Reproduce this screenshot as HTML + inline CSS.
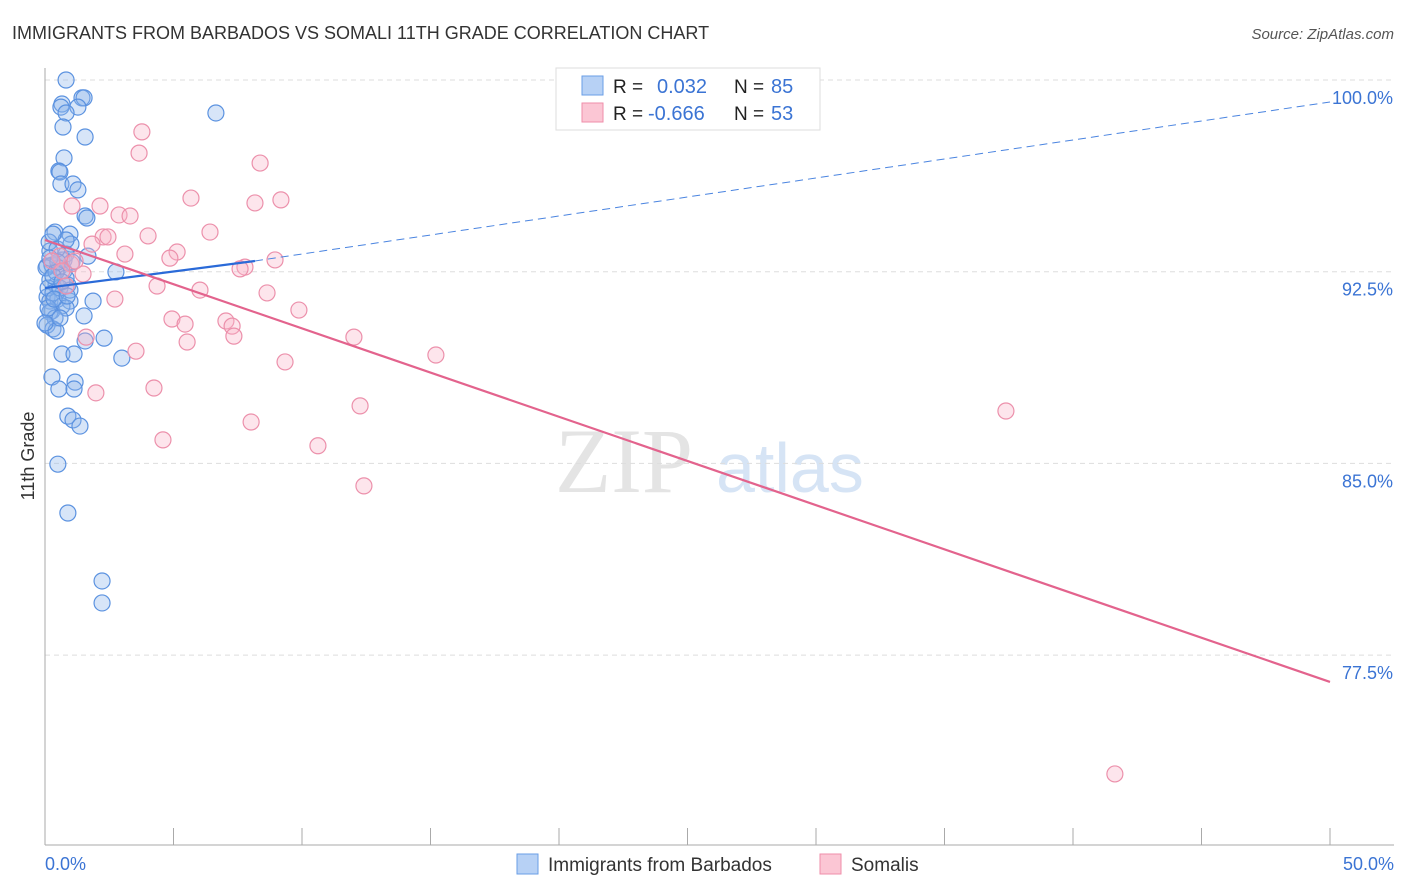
<!DOCTYPE html>
<html><head><meta charset="utf-8">
<style>
html,body{margin:0;padding:0;background:#fff;width:1406px;height:892px;overflow:hidden;font-family:"Liberation Sans",sans-serif;}
svg{display:block}
</style></head>
<body>
<svg id="chart" width="1406" height="892">
  <text x="12" y="39" font-size="18" fill="#333">IMMIGRANTS FROM BARBADOS VS SOMALI 11TH GRADE CORRELATION CHART</text>
  <text x="1394" y="39" font-size="15" fill="#555" text-anchor="end" font-style="italic">Source: ZipAtlas.com</text>
  <text x="34" y="456" font-size="18" fill="#333" text-anchor="middle" transform="rotate(-90 34 456)">11th Grade</text>
  <text x="555" y="492" font-size="92" fill="#e4e4e4" font-family="Liberation Serif,serif">ZIP</text>
  <text x="716" y="492" font-size="70" fill="#d6e4f5">atlas</text>
  <g id="grid"></g>
  <g id="axes"></g>
  <g id="pts"></g>
  <g id="lines"></g>
  <g>
    <rect x="556" y="68" width="264" height="62" fill="#fff" stroke="#ddd"/>
    <rect x="582" y="76" width="21" height="19" fill="#b7d1f5" stroke="#6a9ee6"/>
    <rect x="582" y="103" width="21" height="19" fill="#fbc6d4" stroke="#ef8eaa"/>
    <text x="613" y="93" font-size="19" fill="#222">R = </text>
    <text x="657" y="93" font-size="20" fill="#3b74d4">0.032</text>
    <text x="734" y="93" font-size="19" fill="#222">N = </text>
    <text x="771" y="93" font-size="20" fill="#3b74d4">85</text>
    <text x="613" y="120" font-size="19" fill="#222">R = </text>
    <text x="648" y="120" font-size="20" fill="#3b74d4">-0.666</text>
    <text x="734" y="120" font-size="19" fill="#222">N = </text>
    <text x="771" y="120" font-size="20" fill="#3b74d4">53</text>
  </g>
  <g>
    <rect x="517" y="854" width="21" height="20" fill="#b7d1f5" stroke="#6a9ee6"/>
    <text x="548" y="871" font-size="19" fill="#333">Immigrants from Barbados</text>
    <rect x="820" y="854" width="21" height="20" fill="#fbc6d4" stroke="#ef8eaa"/>
    <text x="851" y="871" font-size="19" fill="#333">Somalis</text>
  </g>
</svg>
<script>
const yTicks=[100,92.5,85,77.5];
const yTickLabels=["100.0%","92.5%","85.0%","77.5%"];
const xTickLabels=["0.0%","50.0%"];
const blueX=[0.82,0.66,0.62,1.44,1.52,1.28,0.82,0.7,1.56,6.65,0.74,0.54,0.58,0.62,1.09,1.28,1.56,1.63,0.39,0.97,1.01,0.19,0.66,1.67,2.76,0.08,0.27,0.54,0.74,0.19,0.43,0.89,0.82,0.08,0.19,0.5,0.97,1.87,0.27,0.66,0.82,1.52,0.19,0.39,0.08,0.31,0.43,1.56,2.3,2.99,0.66,1.13,0.27,1.17,0.54,1.13,0.89,1.09,1.36,0.5,0.89,2.22,2.22,0.12,0.31,0.04,0.43,0.58,0.74,0.16,0.82,0.47,0.12,0.58,0,0.97,0.31,0.5,0.82,0.19,0.31,0.35,0.66,0.86,1.05];
const blueY=[100,99.06,98.94,99.3,99.3,98.94,98.71,98.16,97.77,98.71,96.95,96.44,96.4,95.93,95.93,95.7,94.68,94.6,94.05,93.97,93.58,93.31,92.96,93.11,92.49,92.72,92.76,92.65,92.53,92.18,91.98,91.98,92.25,91.51,91.35,91.43,91.35,91.35,90.96,91.16,91.08,90.77,90.92,90.69,90.41,90.26,90.18,89.79,89.9,89.12,89.28,89.28,88.38,88.18,87.91,87.91,86.85,86.7,86.46,84.97,83.06,80.4,79.54,91.86,91.67,92.65,92.49,91.86,92.96,93.66,93.19,93.39,91.08,90.69,90.49,91.78,92.33,92.88,93.74,93.03,93.97,91.43,92.1,91.55,92.88];
const pinkX=[3.77,3.66,8.37,5.68,1.05,2.14,2.88,3.31,8.17,9.18,6.42,4.01,2.26,2.45,1.83,3.11,5.14,4.86,8.95,7.78,7.59,1.01,1.48,4.36,6.03,8.64,2.72,9.88,4.94,5.45,7.04,7.28,7.35,5.53,1.6,12.02,3.54,9.34,15.21,4.24,1.98,12.26,8.02,37.39,4.59,10.62,12.41,41.63,0.58,0.82,0.27,1.17,0.66];
const pinkY=[97.97,97.14,96.75,95.38,95.07,95.07,94.72,94.68,95.19,95.31,94.05,93.9,93.86,93.86,93.58,93.19,93.27,93.03,92.96,92.68,92.61,92.8,92.41,91.94,91.78,91.67,91.43,91.0,90.65,90.45,90.57,90.37,89.98,89.75,89.94,89.94,89.39,88.97,89.24,87.95,87.76,87.25,86.62,87.05,85.92,85.69,84.12,72.85,93.11,91.94,92.92,92.92,92.53];
const blueLine={x1:0,y1:91.86,x2:8.17,y2:92.92,x3:50,y3:99.14};
const pinkLine={x1:0,y1:93.74,x2:50,y2:76.45};

const X=v=>45+v*25.7;
const Y=v=>80+(100-v)*25.56;
const NS="http://www.w3.org/2000/svg";
function mk(tag,attrs,parent){const e=document.createElementNS(NS,tag);for(const k in attrs)e.setAttribute(k,attrs[k]);parent.appendChild(e);return e;}
const grid=document.getElementById('grid'),axes=document.getElementById('axes'),pts=document.getElementById('pts'),lines=document.getElementById('lines');
yTicks.forEach((t,i)=>{
  const l=mk('line',{x1:45,x2:1394,y1:Y(t),y2:Y(t),stroke:'#ddd','stroke-dasharray':'5,4'},grid);
  
  
  const tx=mk('text',{x:1393,y:Y(t)+24,'font-size':18,fill:'#3b74d4','text-anchor':'end'},grid);
  tx.textContent=yTickLabels[i];
  
  
});
const ya=mk('line',{x1:45,x2:45,y1:68,y2:845,stroke:'#aaa'},axes);


const xa=mk('line',{x1:45,x2:1394,y1:845,y2:845,stroke:'#aaa'},axes);


for(let i=0;i<=10;i++){
  const t=mk('line',{x1:X(i*5),x2:X(i*5),y1:828,y2:845,stroke:'#aaa'},axes);
  
  
}
const xl0=mk('text',{x:45,y:870,'font-size':18,fill:'#3b74d4'},axes);xl0.textContent=xTickLabels[0];


const xl1=mk('text',{x:1394,y:870,'font-size':18,fill:'#3b74d4','text-anchor':'end'},axes);xl1.textContent=xTickLabels[1];


blueX.forEach((v,i)=>{
  const c=mk('circle',{cx:X(v),cy:Y(blueY[i]),r:8,fill:'rgba(140,180,235,0.35)',stroke:'#5b92e0','stroke-width':1.2},pts);
  
  
});
pinkX.forEach((v,i)=>{
  const c=mk('circle',{cx:X(v),cy:Y(pinkY[i]),r:8,fill:'rgba(248,180,200,0.35)',stroke:'#ec90ab','stroke-width':1.2},pts);
  
  
});
const bl=mk('line',{x1:X(blueLine.x1),y1:Y(blueLine.y1),x2:X(blueLine.x2),y2:Y(blueLine.y2),stroke:'#2a6ad8','stroke-width':2.2},lines);


const bd=mk('line',{x1:X(blueLine.x2),y1:Y(blueLine.y2),x2:X(blueLine.x3),y2:Y(blueLine.y3),stroke:'#4a84e0','stroke-width':1,'stroke-dasharray':'8,5'},lines);


const pl=mk('line',{x1:X(pinkLine.x1),y1:Y(pinkLine.y1),x2:X(pinkLine.x2),y2:Y(pinkLine.y2),stroke:'#e3638d','stroke-width':2.2},lines);


</script>
</body></html>
